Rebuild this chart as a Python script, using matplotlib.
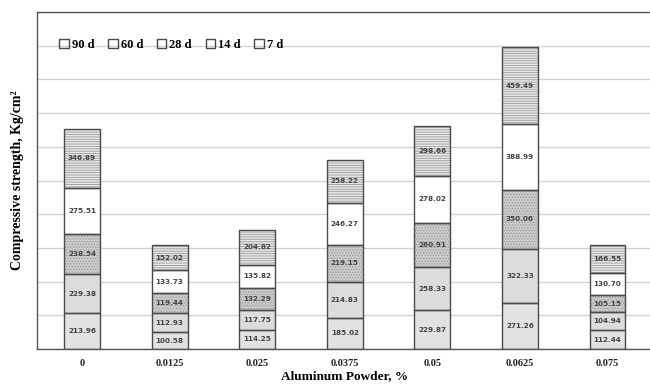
import matplotlib
matplotlib.use("Agg")
import matplotlib.pyplot as plt
import numpy as np

# Aluminium powder content (%) and compressive strength (Kg/cm²) at each curing age
powder = ["0", "0.0125", "0.025", "0.0375", "0.05", "0.0625", "0.075"]
d7 = [213.96, 100.58, 114.25, 185.02, 229.87, 271.26, 112.44]
d14 = [229.38, 112.93, 117.75, 214.83, 258.33, 322.33, 104.94]
d28 = [238.54, 119.44, 132.29, 219.15, 260.91, 350.06, 105.15]
d60 = [275.51, 133.73, 135.82, 246.27, 278.02, 388.99, 130.70]
d90 = [346.89, 152.02, 204.82, 258.22, 298.66, 459.49, 166.55]

series = [("7 d", d7), ("14 d", d14), ("28 d", d28), ("60 d", d60), ("90 d", d90)]
faces = ["#e2e2e2", "#dcdcdc", "#cbcbcb", "#ffffff", "#e8e8e8"]
hatches = ["", "", "......", "", "-------"]

plt.rcParams["font.family"] = ["Liberation Serif", "DejaVu Serif"]
plt.rcParams["hatch.linewidth"] = 0.6

fig = plt.figure(figsize=(6.5, 3.85), dpi=100)
ax = fig.add_axes([37 / 650, 36 / 385, 1 - 37 / 650 + 3 / 650, 337 / 385])

x = np.arange(len(powder))
width = 0.41
bottom = np.zeros(len(powder))
handles = {}
for (name, vals), fc, ht in zip(series, faces, hatches):
    vals = np.array(vals)
    # fill + hatch layer (hatch drawn in a lighter grey)
    ax.bar(x, vals, width, bottom=bottom, color=fc, hatch=ht,
           edgecolor="#9a9a9a", linewidth=0, zorder=2)
    # outline layer carrying the value labels
    bars = ax.bar(x, vals, width, bottom=bottom, fill=False,
                  edgecolor="#4a4a4a", linewidth=1.0, zorder=3)
    ax.bar_label(bars, labels=[f"{v:.2f}" for v in vals], label_type="center",
                 fontsize=5.2, color="#444444", fontweight="bold",
                 family=["DejaVu Sans"], zorder=4)
    handles[name] = bars
    bottom += vals

ax.set_xlim(-0.514, 6.52)
ax.set_ylim(0, 2000)
ax.set_yticks(np.arange(0, 2001, 200))
ax.yaxis.grid(True, color="#d2d2d2", linewidth=1.0, zorder=0)
ax.set_axisbelow(True)
ax.tick_params(axis="y", left=False, labelleft=False)
ax.tick_params(axis="x", bottom=False, pad=4)
ax.set_xticks(x)
ax.set_xticklabels(powder, fontweight="bold", color="#222222", fontsize=7.5)

for side in ["left", "bottom", "top"]:
    ax.spines[side].set_color("#555555")
    ax.spines[side].set_linewidth(1.0)
ax.spines["right"].set_visible(False)

ax.set_xlabel("Aluminum Powder, %", fontsize=9.5, fontweight="bold", labelpad=1)
ax.set_ylabel("Compressive strength, Kg/cm²", fontsize=10, fontweight="bold", labelpad=9)

order = ["90 d", "60 d", "28 d", "14 d", "7 d"]
leg = ax.legend([handles[k] for k in order], order, loc="center left",
                bbox_to_anchor=(0.012, 0.902), ncol=5, frameon=False,
                handlelength=0.75, handleheight=0.75, handletextpad=0.25,
                columnspacing=1.1, borderaxespad=0.8,
                prop={"family": "Liberation Serif", "weight": "bold", "size": 9})

fig.savefig("out.png", dpi=100)
